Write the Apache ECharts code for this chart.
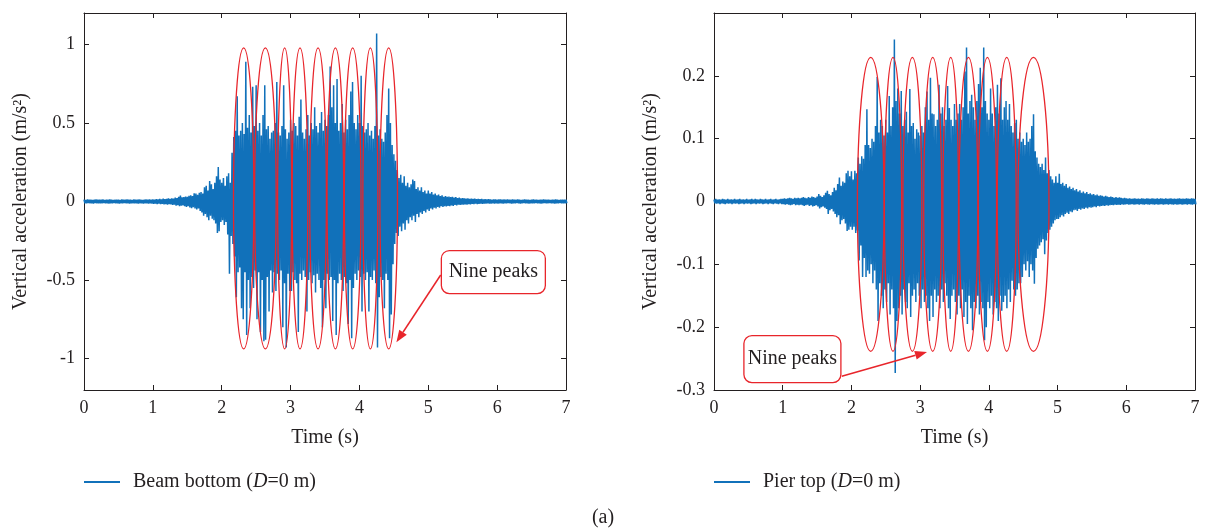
<!DOCTYPE html>
<html><head><meta charset="utf-8">
<script src="https://cdn.jsdelivr.net/npm/echarts@6/dist/echarts.min.js"></script>
<style>html,body{margin:0;padding:0;background:#fff}#c{width:1205px;height:531px}</style>
</head><body><div id="c"></div>
<script>
// ---------------- data ----------------
const DT = 0.025; // sampling step of the envelope arrays (s), t = 0 ... 7
const beamTop = [
0.012,0.010,0.013,0.011,0.012,0.010,0.012,0.013,0.011,0.012,
0.011,0.013,0.010,0.012,0.011,0.013,0.012,0.010,0.012,0.011,
0.012,0.010,0.013,0.011,0.012,0.014,0.011,0.012,0.010,0.013,
0.012,0.011,0.013,0.012,0.010,0.012,0.014,0.011,0.013,0.012,
0.013,0.012,0.015,0.013,0.016,0.014,0.018,0.015,0.017,0.020,
0.016,0.020,0.018,0.025,0.022,0.030,0.038,0.026,0.028,0.032,
0.030,0.036,0.040,0.035,0.053,0.050,0.042,0.055,0.060,0.050,
0.090,0.100,0.070,0.130,0.110,0.080,0.120,0.160,0.220,0.140,
0.120,0.150,0.100,0.160,0.180,0.120,0.310,0.410,0.450,0.670,
0.420,0.450,0.500,0.430,0.890,0.470,0.550,0.440,0.730,0.480,
0.740,0.450,0.500,0.420,0.550,0.740,0.460,0.480,0.400,0.440,
0.450,0.500,0.760,0.440,0.420,0.480,0.740,0.460,0.400,0.440,
0.520,0.450,0.500,0.480,0.420,0.540,0.650,0.440,0.400,0.460,
0.550,0.420,0.500,0.460,0.600,0.480,0.440,0.500,0.570,0.450,
0.520,0.480,0.550,0.860,0.600,0.740,0.500,0.780,0.450,0.500,
0.620,0.440,0.520,0.460,0.550,0.700,0.760,0.500,0.460,0.550,
0.500,0.800,0.480,0.440,0.460,0.500,0.420,0.450,0.400,0.480,
1.070,0.420,0.460,0.400,0.380,0.440,0.550,0.720,0.500,0.360,
0.300,0.260,0.200,0.150,0.170,0.120,0.160,0.100,0.120,0.090,
0.110,0.140,0.130,0.080,0.090,0.070,0.090,0.060,0.070,0.050,
0.070,0.050,0.060,0.045,0.050,0.040,0.045,0.035,0.040,0.030,
0.035,0.030,0.032,0.028,0.030,0.025,0.028,0.022,0.025,0.020,
0.022,0.020,0.018,0.020,0.017,0.019,0.016,0.018,0.015,0.017,
0.015,0.016,0.014,0.015,0.013,0.015,0.014,0.012,0.014,0.013,
0.012,0.014,0.013,0.011,0.013,0.012,0.014,0.012,0.011,0.013,
0.012,0.011,0.013,0.012,0.010,0.012,0.013,0.011,0.012,0.010,
0.012,0.013,0.011,0.012,0.010,0.012,0.011,0.013,0.012,0.011,
0.012,0.010,0.012,0.011,0.013,0.012,0.010,0.012,0.011,0.012,
0.011];
const beamBot = [
-0.011,-0.012,-0.010,-0.012,-0.011,-0.013,-0.010,-0.012,-0.011,-0.012,
-0.012,-0.010,-0.012,-0.011,-0.013,-0.011,-0.012,-0.010,-0.012,-0.011,
-0.013,-0.011,-0.012,-0.010,-0.012,-0.011,-0.013,-0.012,-0.011,-0.012,
-0.011,-0.013,-0.012,-0.011,-0.014,-0.012,-0.011,-0.013,-0.012,-0.014,
-0.015,-0.013,-0.016,-0.014,-0.017,-0.015,-0.019,-0.016,-0.020,-0.017,
-0.018,-0.022,-0.020,-0.026,-0.023,-0.030,-0.027,-0.025,-0.030,-0.034,
-0.030,-0.038,-0.042,-0.036,-0.045,-0.050,-0.045,-0.060,-0.070,-0.090,
-0.080,-0.100,-0.120,-0.090,-0.110,-0.120,-0.140,-0.200,-0.190,-0.130,
-0.120,-0.150,-0.130,-0.210,-0.460,-0.220,-0.270,-0.350,-0.610,-0.450,
-0.420,-0.680,-0.750,-0.450,-0.850,-0.500,-0.680,-0.480,-0.550,-0.440,
-0.750,-0.450,-0.830,-0.500,-0.890,-0.880,-0.480,-0.700,-0.440,-0.580,
-0.450,-0.570,-0.460,-0.500,-0.440,-0.800,-0.520,-0.930,-0.460,-0.570,
-0.570,-0.450,-0.500,-0.520,-0.830,-0.460,-0.500,-0.440,-0.480,-0.700,
-0.500,-0.450,-0.520,-0.470,-0.580,-0.460,-0.500,-0.550,-0.800,-0.500,
-0.680,-0.460,-0.500,-0.480,-0.760,-0.500,-0.850,-0.520,-0.460,-0.500,
-0.570,-0.480,-0.520,-0.780,-0.500,-0.870,-0.550,-0.460,-0.500,-0.440,
-0.480,-0.700,-0.460,-0.500,-0.450,-0.700,-0.480,-0.500,-0.440,-0.520,
-0.930,-0.610,-0.480,-0.500,-0.680,-0.460,-0.500,-0.870,-0.720,-0.400,
-0.270,-0.200,-0.220,-0.160,-0.190,-0.140,-0.180,-0.120,-0.140,-0.100,
-0.120,-0.090,-0.130,-0.080,-0.100,-0.070,-0.080,-0.060,-0.070,-0.050,
-0.060,-0.045,-0.050,-0.040,-0.045,-0.035,-0.040,-0.030,-0.035,-0.030,
-0.032,-0.028,-0.030,-0.025,-0.028,-0.022,-0.025,-0.020,-0.022,-0.020,
-0.020,-0.018,-0.020,-0.016,-0.018,-0.015,-0.017,-0.014,-0.016,-0.015,
-0.014,-0.015,-0.013,-0.014,-0.012,-0.014,-0.013,-0.012,-0.014,-0.012,
-0.013,-0.011,-0.012,-0.013,-0.011,-0.012,-0.010,-0.012,-0.013,-0.011,
-0.012,-0.010,-0.011,-0.013,-0.012,-0.010,-0.012,-0.011,-0.013,-0.012,
-0.011,-0.012,-0.010,-0.012,-0.011,-0.013,-0.012,-0.010,-0.011,-0.012,
-0.010,-0.012,-0.011,-0.013,-0.011,-0.012,-0.010,-0.012,-0.011,-0.012,
-0.011];
const pierTop = [
0.003,0.004,0.003,0.0035,0.003,0.004,0.0035,0.003,0.004,0.003,
0.0035,0.003,0.004,0.003,0.0035,0.004,0.003,0.0035,0.003,0.004,
0.003,0.0035,0.004,0.003,0.004,0.0035,0.003,0.004,0.0035,0.003,
0.004,0.003,0.0035,0.004,0.003,0.0035,0.004,0.003,0.0035,0.004,
0.004,0.005,0.004,0.005,0.006,0.005,0.004,0.006,0.005,0.006,
0.005,0.006,0.007,0.006,0.005,0.007,0.006,0.008,0.007,0.006,
0.008,0.012,0.009,0.007,0.010,0.014,0.017,0.012,0.010,0.015,
0.022,0.018,0.028,0.038,0.025,0.032,0.030,0.045,0.049,0.040,
0.048,0.035,0.049,0.045,0.070,0.060,0.072,0.068,0.090,0.147,
0.090,0.085,0.100,0.095,0.120,0.198,0.110,0.130,0.120,0.105,
0.130,0.110,0.168,0.120,0.150,0.258,0.160,0.180,0.140,0.176,
0.120,0.130,0.143,0.110,0.179,0.120,0.125,0.100,0.115,0.110,
0.105,0.120,0.110,0.150,0.175,0.130,0.197,0.140,0.139,0.120,
0.130,0.186,0.140,0.150,0.120,0.130,0.184,0.149,0.130,0.120,
0.155,0.130,0.140,0.155,0.130,0.150,0.207,0.245,0.140,0.160,
0.170,0.150,0.130,0.160,0.187,0.213,0.150,0.245,0.160,0.140,
0.130,0.180,0.140,0.120,0.150,0.186,0.140,0.196,0.130,0.150,
0.160,0.130,0.155,0.120,0.110,0.125,0.130,0.100,0.110,0.095,
0.100,0.090,0.110,0.095,0.100,0.120,0.139,0.080,0.070,0.060,
0.055,0.060,0.050,0.070,0.045,0.050,0.040,0.035,0.030,0.040,
0.030,0.044,0.028,0.030,0.025,0.028,0.022,0.024,0.020,0.022,
0.018,0.020,0.016,0.018,0.014,0.016,0.013,0.015,0.012,0.013,
0.011,0.012,0.010,0.011,0.009,0.010,0.009,0.008,0.009,0.008,
0.007,0.008,0.007,0.006,0.007,0.006,0.0065,0.006,0.005,0.006,
0.005,0.0045,0.005,0.004,0.0045,0.005,0.004,0.0045,0.004,0.005,
0.0045,0.004,0.005,0.0045,0.004,0.005,0.0045,0.004,0.005,0.004,
0.005,0.0045,0.004,0.005,0.004,0.0045,0.005,0.004,0.0045,0.004,
0.0045,0.005,0.004,0.0045,0.004,0.005,0.0045,0.004,0.005,0.0045,
0.004];
const pierBot = [
-0.003,-0.0035,-0.003,-0.004,-0.003,-0.0035,-0.004,-0.003,-0.0035,-0.003,
-0.004,-0.003,-0.0035,-0.003,-0.004,-0.0035,-0.003,-0.004,-0.003,-0.0035,
-0.003,-0.004,-0.0035,-0.003,-0.004,-0.003,-0.0035,-0.003,-0.004,-0.0035,
-0.003,-0.004,-0.003,-0.0035,-0.004,-0.003,-0.0035,-0.004,-0.003,-0.004,
-0.004,-0.005,-0.004,-0.005,-0.006,-0.005,-0.004,-0.006,-0.005,-0.006,
-0.005,-0.006,-0.007,-0.006,-0.005,-0.007,-0.006,-0.008,-0.007,-0.006,
-0.008,-0.011,-0.009,-0.008,-0.010,-0.012,-0.020,-0.014,-0.012,-0.016,
-0.020,-0.025,-0.022,-0.036,-0.030,-0.028,-0.035,-0.047,-0.045,-0.040,
-0.045,-0.040,-0.050,-0.046,-0.094,-0.070,-0.120,-0.090,-0.120,-0.110,
-0.115,-0.100,-0.130,-0.110,-0.140,-0.190,-0.130,-0.150,-0.170,-0.140,
-0.160,-0.130,-0.180,-0.140,-0.170,-0.273,-0.190,-0.170,-0.150,-0.180,
-0.140,-0.160,-0.170,-0.130,-0.184,-0.150,-0.140,-0.160,-0.130,-0.150,
-0.170,-0.140,-0.160,-0.150,-0.170,-0.190,-0.150,-0.184,-0.140,-0.160,
-0.150,-0.170,-0.140,-0.160,-0.130,-0.150,-0.170,-0.187,-0.150,-0.140,
-0.160,-0.180,-0.150,-0.170,-0.140,-0.184,-0.160,-0.195,-0.150,-0.170,
-0.205,-0.160,-0.170,-0.150,-0.180,-0.160,-0.170,-0.221,-0.200,-0.160,
-0.170,-0.150,-0.180,-0.160,-0.170,-0.190,-0.150,-0.174,-0.160,-0.150,
-0.170,-0.140,-0.160,-0.126,-0.140,-0.150,-0.140,-0.130,-0.130,-0.120,
-0.100,-0.110,-0.095,-0.120,-0.100,-0.110,-0.131,-0.090,-0.075,-0.070,
-0.065,-0.060,-0.084,-0.062,-0.050,-0.045,-0.040,-0.035,-0.030,-0.028,
-0.028,-0.025,-0.022,-0.024,-0.020,-0.018,-0.020,-0.016,-0.017,-0.014,
-0.013,-0.015,-0.012,-0.013,-0.011,-0.012,-0.010,-0.011,-0.009,-0.010,
-0.009,-0.008,-0.009,-0.007,-0.008,-0.007,-0.0065,-0.007,-0.006,-0.0065,
-0.006,-0.0055,-0.006,-0.005,-0.0055,-0.005,-0.0055,-0.0045,-0.005,-0.0045,
-0.004,-0.005,-0.0045,-0.004,-0.005,-0.0045,-0.004,-0.005,-0.004,-0.0045,
-0.005,-0.004,-0.0045,-0.005,-0.004,-0.0045,-0.005,-0.004,-0.005,-0.0045,
-0.004,-0.005,-0.0045,-0.004,-0.005,-0.004,-0.0045,-0.005,-0.004,-0.005,
-0.0045,-0.004,-0.005,-0.0045,-0.004,-0.005,-0.004,-0.0045,-0.005,-0.004,
-0.0045];

const timeRange = [0, 7];
const beamYRange = [-1.2, 1.2];
const pierYRange = [-0.3, 0.3];
const beamYTicks = [-1, -0.5, 0, 0.5, 1];
const pierYTicks = [-0.3, -0.2, -0.1, 0, 0.1, 0.2];

// ellipses: [centre time, centre value, half width (s), half height]
const beamEllipses = [
  [2.319, 0.020, 0.148, 0.958], [2.634, 0.020, 0.157, 0.958], [2.914, 0.020, 0.102, 0.958],
  [3.137, 0.020, 0.114, 0.958], [3.399, 0.020, 0.121, 0.958], [3.651, 0.020, 0.121, 0.958],
  [3.902, 0.020, 0.121, 0.958], [4.159, 0.020, 0.109, 0.958], [4.425, 0.020, 0.128, 0.958]];
const pierEllipses = [
  [2.281, -0.0045, 0.194, 0.234], [2.605, -0.0045, 0.126, 0.234], [2.887, -0.0045, 0.138, 0.234],
  [3.183, -0.0045, 0.131, 0.234], [3.445, -0.0045, 0.114, 0.234], [3.703, -0.0045, 0.138, 0.234],
  [3.979, -0.0045, 0.133, 0.234], [4.260, -0.0045, 0.138, 0.234], [4.649, -0.0045, 0.226, 0.234]];

// annotations: [box centre t, v, arrow start t, v, arrow tip t, v]
const beamNote = [[5.945, -0.449, 5.18, -0.468, 4.537, -0.896]];
const pierNote = [[1.141, -0.2508, 1.859, -0.278, 3.10, -0.2394]];
const noteText = 'Nine peaks';
const seriesNames = ['Beam bottom (D=0 m)', 'Pier top (D=0 m)'];

[beamTop, beamBot, pierTop, pierBot].forEach((a, i) => { if (a.length !== 281) throw new Error('array ' + i + ' has ' + a.length); });

// ---------------- styling ----------------
const FONT = '"Liberation Serif", "Times New Roman", serif';
const AX = '#231f20';
const TXT = '#231f20';
const BLUE = '#1171ba';
const RED = '#e8252b';

function zigzag(top, bot) {
  const out = [];
  for (let i = 0; i < top.length; i++) {
    const t = +(i * DT).toFixed(4);
    out.push([t, top[i]]);
    out.push([+(t + DT / 2).toFixed(5), bot[i]]);
  }
  return out;
}

function xAxes(g) {
  const common = {
    type: 'value', gridIndex: g, min: timeRange[0], max: timeRange[1], interval: 1,
    axisLine: { show: true, onZero: false, lineStyle: { color: AX, width: 1 } },
    axisTick: { show: true, inside: true, length: 5, lineStyle: { color: AX, width: 1 } },
    splitLine: { show: false }
  };
  return [
    Object.assign({}, common, {
      position: 'bottom',
      axisLabel: { margin: 9, fontSize: 18, fontFamily: FONT, color: TXT },
      name: 'Time (s)', nameLocation: 'middle', nameGap: 38,
      nameTextStyle: { fontSize: 20, fontFamily: FONT, color: TXT }
    }),
    Object.assign({}, common, { position: 'top', axisLabel: { show: false } })
  ];
}
function yAxes(g, range, ticks) {
  const common = {
    type: 'value', gridIndex: g, min: range[0], max: range[1],
    axisLine: { show: true, onZero: false, lineStyle: { color: AX, width: 1 } },
    axisTick: { show: true, inside: true, length: 5, customValues: ticks, lineStyle: { color: AX, width: 1 } },
    splitLine: { show: false }
  };
  return [
    Object.assign({}, common, {
      position: 'left',
      axisLabel: { customValues: ticks, margin: 9, fontSize: 18, fontFamily: FONT, color: TXT },
      name: 'Vertical acceleration (m/s²)', nameLocation: 'middle', nameGap: 53, nameRotate: 90,
      nameTextStyle: { fontSize: 20, fontFamily: FONT, color: TXT }
    }),
    Object.assign({}, common, { position: 'right', axisLabel: { show: false } })
  ];
}

function ellipseItem(params, api) {
  const t = api.value(0), v = api.value(1), hw = api.value(2), hh = api.value(3);
  const c = api.coord([t, v]);
  const l = api.coord([t - hw, v]);
  const tp = api.coord([t, v + hh]);
  const rx = c[0] - l[0], ry = c[1] - tp[1];
  return {
    type: 'path',
    shape: { pathData: 'M' + (c[0] - rx) + ' ' + c[1] + ' A' + rx + ' ' + ry + ' 0 1 0 ' + (c[0] + rx) + ' ' + c[1] +
      ' A' + rx + ' ' + ry + ' 0 1 0 ' + (c[0] - rx) + ' ' + c[1] + ' Z' },
    style: { fill: null, stroke: RED, lineWidth: 1.3 }
  };
}
function noteItemFactory(bw, bh) {
  return function (params, api) {
    const c = api.coord([api.value(0), api.value(1)]);
    const f = api.coord([api.value(2), api.value(3)]);
    const tip = api.coord([api.value(4), api.value(5)]);
    const dx = tip[0] - f[0], dy = tip[1] - f[1];
    const len = Math.hypot(dx, dy), ux = dx / len, uy = dy / len;
    const hl = 12, hwid = 4.5;
    const base = [tip[0] - ux * hl, tip[1] - uy * hl];
    const p1 = [base[0] - uy * hwid, base[1] + ux * hwid];
    const p2 = [base[0] + uy * hwid, base[1] - ux * hwid];
    return {
      type: 'group', children: [
        { type: 'line', shape: { x1: f[0], y1: f[1], x2: base[0], y2: base[1] }, style: { stroke: RED, lineWidth: 1.5 } },
        { type: 'polygon', shape: { points: [tip, p1, p2] }, style: { fill: RED } },
        { type: 'rect', shape: { x: c[0] - bw / 2, y: c[1] - bh / 2, width: bw, height: bh, r: 8 },
          style: { fill: '#fff', stroke: RED, lineWidth: 1.3 } },
        { type: 'text', style: { text: noteText, x: c[0], y: c[1], align: 'center', verticalAlign: 'middle',
          textAlign: 'center', textVerticalAlign: 'middle', font: '20px ' + FONT, fill: TXT } }
      ]
    };
  };
}

function legendFor(name, left) {
  return {
    data: [name], left: left, top: 467, icon: 'rect', itemWidth: 36, itemHeight: 2, selectedMode: false,
    formatter: n => n.replace('(D=', '({i|D}='),
    textStyle: { fontFamily: FONT, fontSize: 20, color: TXT, padding: [0, 0, 0, 8],
      rich: { i: { fontFamily: FONT, fontSize: 20, fontStyle: 'italic', color: TXT } } }
  };
}

const chart = echarts.init(document.getElementById('c'), null, { renderer: 'canvas' });
chart.setOption({
  animation: false,
  backgroundColor: '#fff',
  grid: [
    { left: 84, top: 13, width: 482, height: 377 },
    { left: 714, top: 13, width: 481, height: 377 }
  ],
  xAxis: [...xAxes(0), ...xAxes(1)],
  yAxis: [...yAxes(0, beamYRange, beamYTicks), ...yAxes(1, pierYRange, pierYTicks)],
  legend: [legendFor(seriesNames[0], 79), legendFor(seriesNames[1], 709)],
  graphic: [{ type: 'text', x: 603, y: 518, style: { text: '(a)', font: '20px ' + FONT, fill: TXT,
    align: 'center', verticalAlign: 'middle', textAlign: 'center', textVerticalAlign: 'middle' } }],
  series: [
    { name: seriesNames[0], type: 'line', xAxisIndex: 0, yAxisIndex: 0, data: zigzag(beamTop, beamBot),
      showSymbol: false, symbol: 'none', color: BLUE, lineStyle: { color: BLUE, width: 1.5, join: 'bevel' }, clip: true, silent: true, z: 2 },
    { name: 'beamEllipses', type: 'custom', xAxisIndex: 0, yAxisIndex: 0, data: beamEllipses,
      renderItem: ellipseItem, clip: false, silent: true, z: 3 },
    { name: 'beamNote', type: 'custom', xAxisIndex: 0, yAxisIndex: 0, data: beamNote,
      renderItem: noteItemFactory(104, 43), clip: false, silent: true, z: 4 },
    { name: seriesNames[1], type: 'line', xAxisIndex: 2, yAxisIndex: 2, data: zigzag(pierTop, pierBot),
      showSymbol: false, symbol: 'none', color: BLUE, lineStyle: { color: BLUE, width: 1.5, join: 'bevel' }, clip: true, silent: true, z: 2 },
    { name: 'pierEllipses', type: 'custom', xAxisIndex: 2, yAxisIndex: 2, data: pierEllipses,
      renderItem: ellipseItem, clip: false, silent: true, z: 3 },
    { name: 'pierNote', type: 'custom', xAxisIndex: 2, yAxisIndex: 2, data: pierNote,
      renderItem: noteItemFactory(97, 47), clip: false, silent: true, z: 4 }
  ]
});
</script></body></html>
